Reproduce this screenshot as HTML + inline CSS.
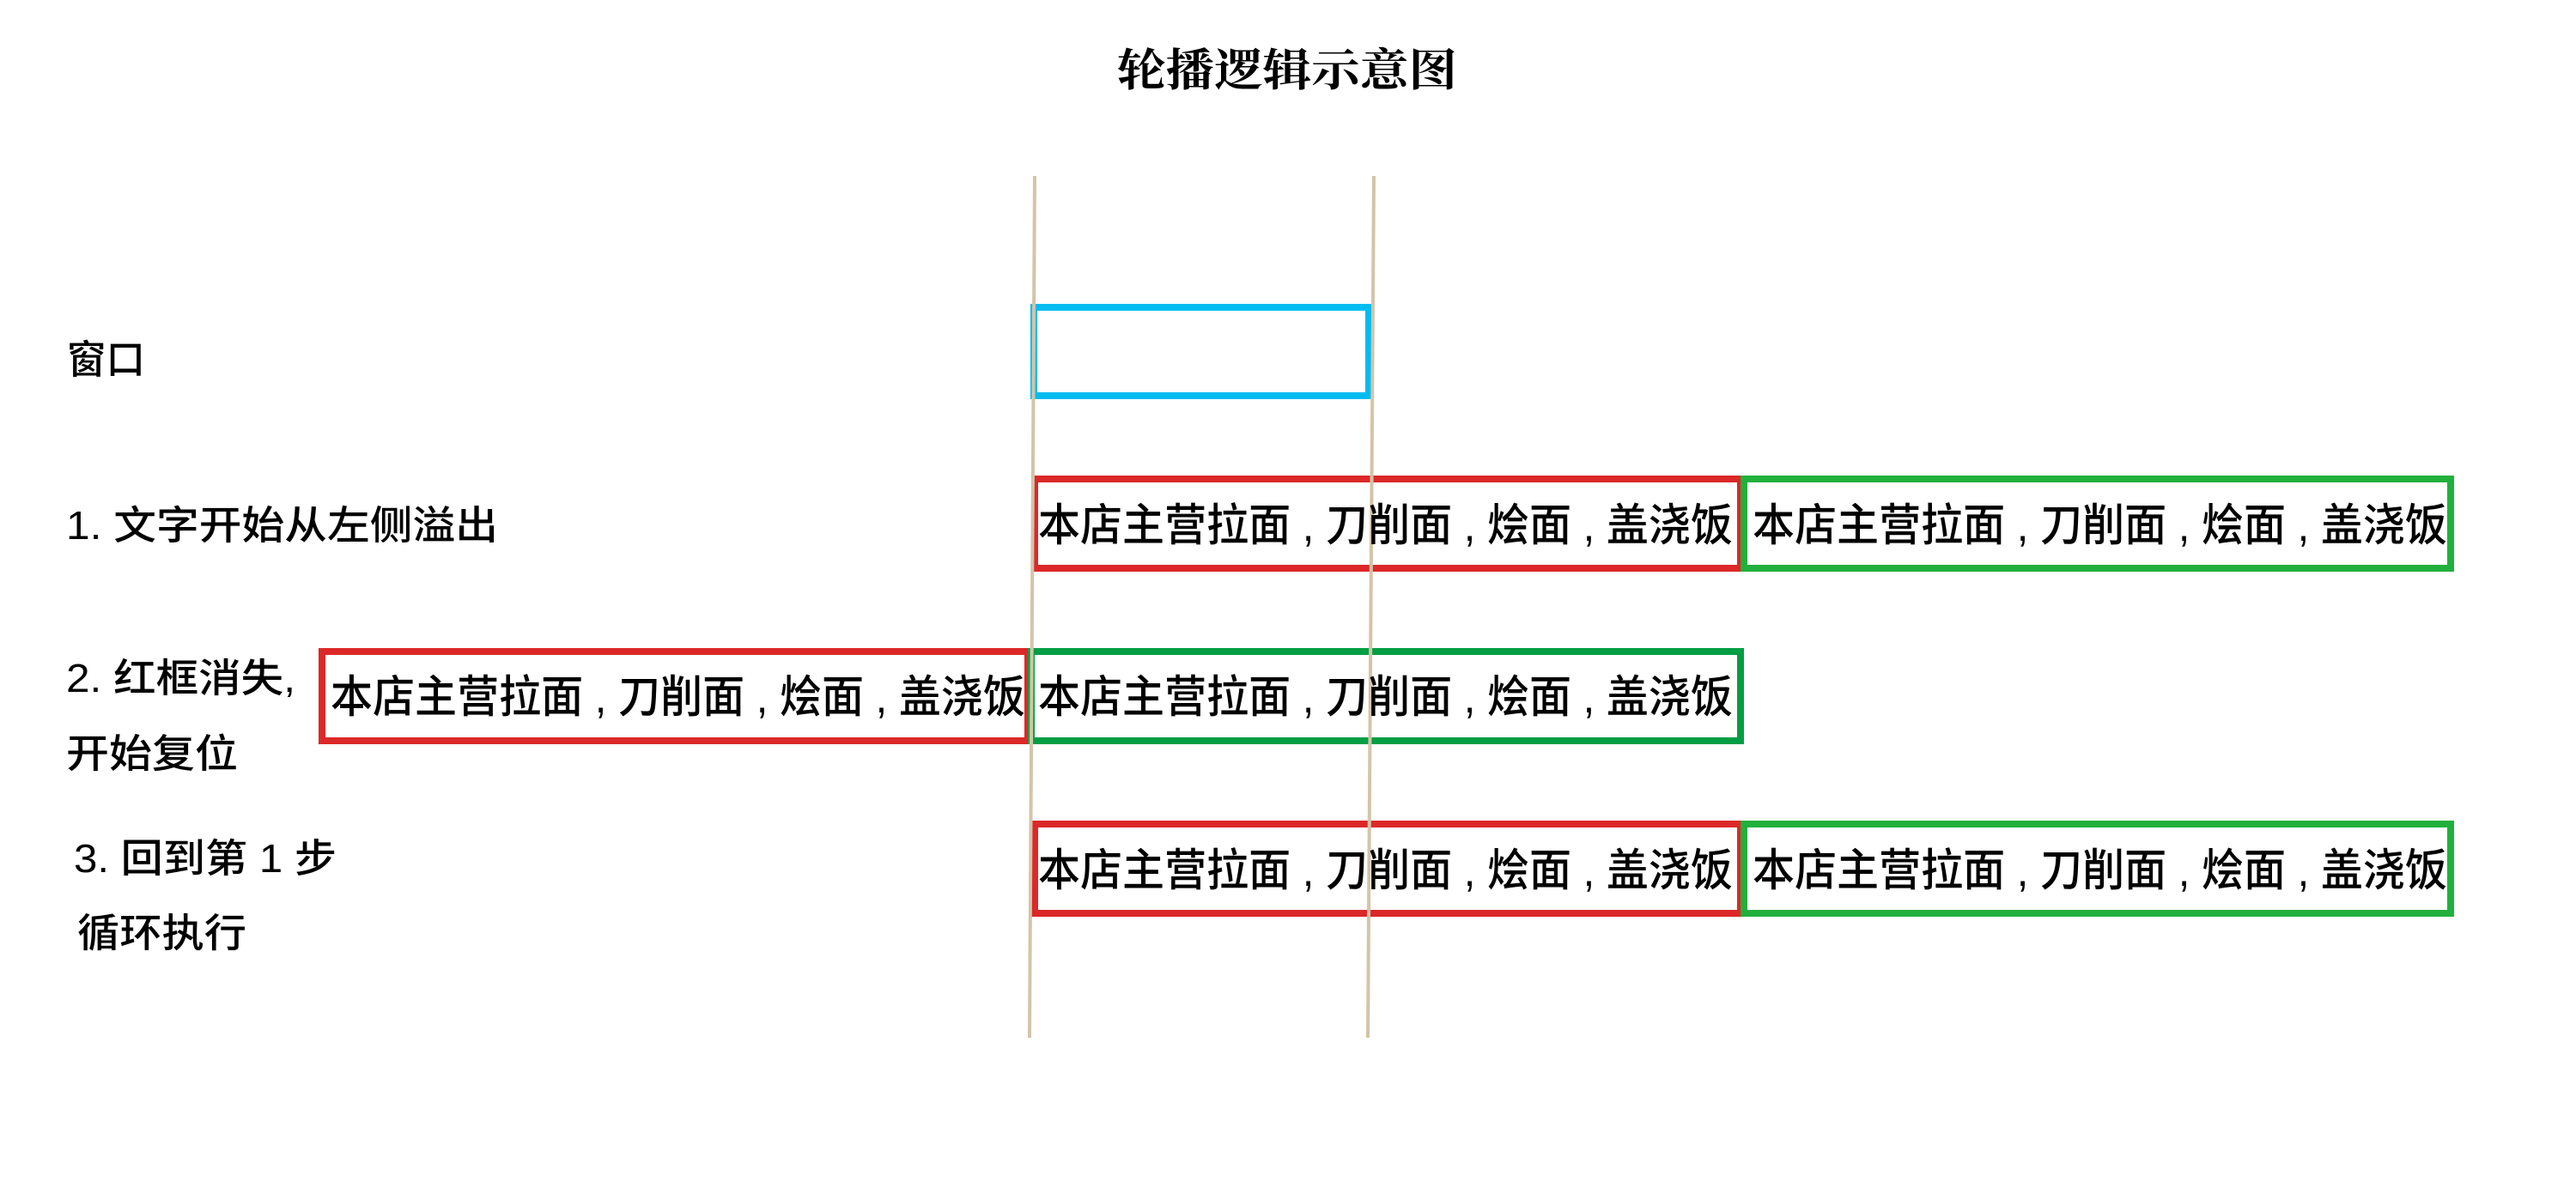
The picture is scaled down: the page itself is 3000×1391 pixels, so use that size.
<!DOCTYPE html>
<html><head><meta charset="utf-8"><style>
html,body{margin:0;padding:0;background:#fff;}
svg{display:block;}
text{font-family:"Liberation Sans","Noto Sans CJK SC",sans-serif;fill:#000;}
</style></head><body>
<svg width="3000" height="1391" viewBox="0 0 3000 1391" xmlns="http://www.w3.org/2000/svg">
<text x="1301" y="100" font-size="52" font-weight="bold" textLength="396" lengthAdjust="spacingAndGlyphs" style="font-family:'Noto Serif CJK SC',serif">轮播逻辑示意图</text>

<rect x="1204" y="358" width="390" height="103" fill="none" stroke="#00bcf0" stroke-width="8"/>

<rect x="1205" y="558" width="822" height="104" fill="none" stroke="#dc2828" stroke-width="8"/>
<rect x="2031" y="558" width="823" height="104" fill="none" stroke="#22b03c" stroke-width="8"/>
<rect x="375" y="759" width="822" height="104" fill="none" stroke="#dc2828" stroke-width="8"/>
<rect x="1201" y="759" width="826" height="104" fill="none" stroke="#009e44" stroke-width="8"/>
<rect x="1205" y="960" width="822" height="104" fill="none" stroke="#dc2828" stroke-width="8"/>
<rect x="2031" y="960" width="823" height="104" fill="none" stroke="#22b03c" stroke-width="8"/>

<line x1="1205" y1="205" x2="1199" y2="1209" stroke="#d4c4a8" stroke-width="4"/>
<line x1="1600" y1="205" x2="1593" y2="1209" stroke="#d4c4a8" stroke-width="4"/>

<g font-size="52" font-weight="500">
<text x="1209" y="630" textLength="809" lengthAdjust="spacingAndGlyphs">本店主营拉面 , 刀削面 , 烩面 , 盖浇饭</text>
<text x="2041" y="630" textLength="809" lengthAdjust="spacingAndGlyphs">本店主营拉面 , 刀削面 , 烩面 , 盖浇饭</text>
<text x="385" y="830" textLength="809" lengthAdjust="spacingAndGlyphs">本店主营拉面 , 刀削面 , 烩面 , 盖浇饭</text>
<text x="1209" y="830" textLength="809" lengthAdjust="spacingAndGlyphs">本店主营拉面 , 刀削面 , 烩面 , 盖浇饭</text>
<text x="1209" y="1032" textLength="809" lengthAdjust="spacingAndGlyphs">本店主营拉面 , 刀削面 , 烩面 , 盖浇饭</text>
<text x="2041" y="1032" textLength="809" lengthAdjust="spacingAndGlyphs">本店主营拉面 , 刀削面 , 烩面 , 盖浇饭</text>
</g>

<g font-size="46" font-weight="500">
<text x="78" y="435" textLength="91" lengthAdjust="spacingAndGlyphs">窗口</text>
<text x="77" y="628" textLength="503" lengthAdjust="spacingAndGlyphs">1. 文字开始从左侧溢出</text>
<text x="77" y="806" textLength="267" lengthAdjust="spacingAndGlyphs">2. 红框消失,</text>
<text x="77" y="894" textLength="200" lengthAdjust="spacingAndGlyphs">开始复位</text>
<text x="86" y="1016" textLength="306" lengthAdjust="spacingAndGlyphs">3. 回到第 1 步</text>
<text x="90" y="1103" textLength="197" lengthAdjust="spacingAndGlyphs">循环执行</text>
</g>
</svg>
</body></html>
